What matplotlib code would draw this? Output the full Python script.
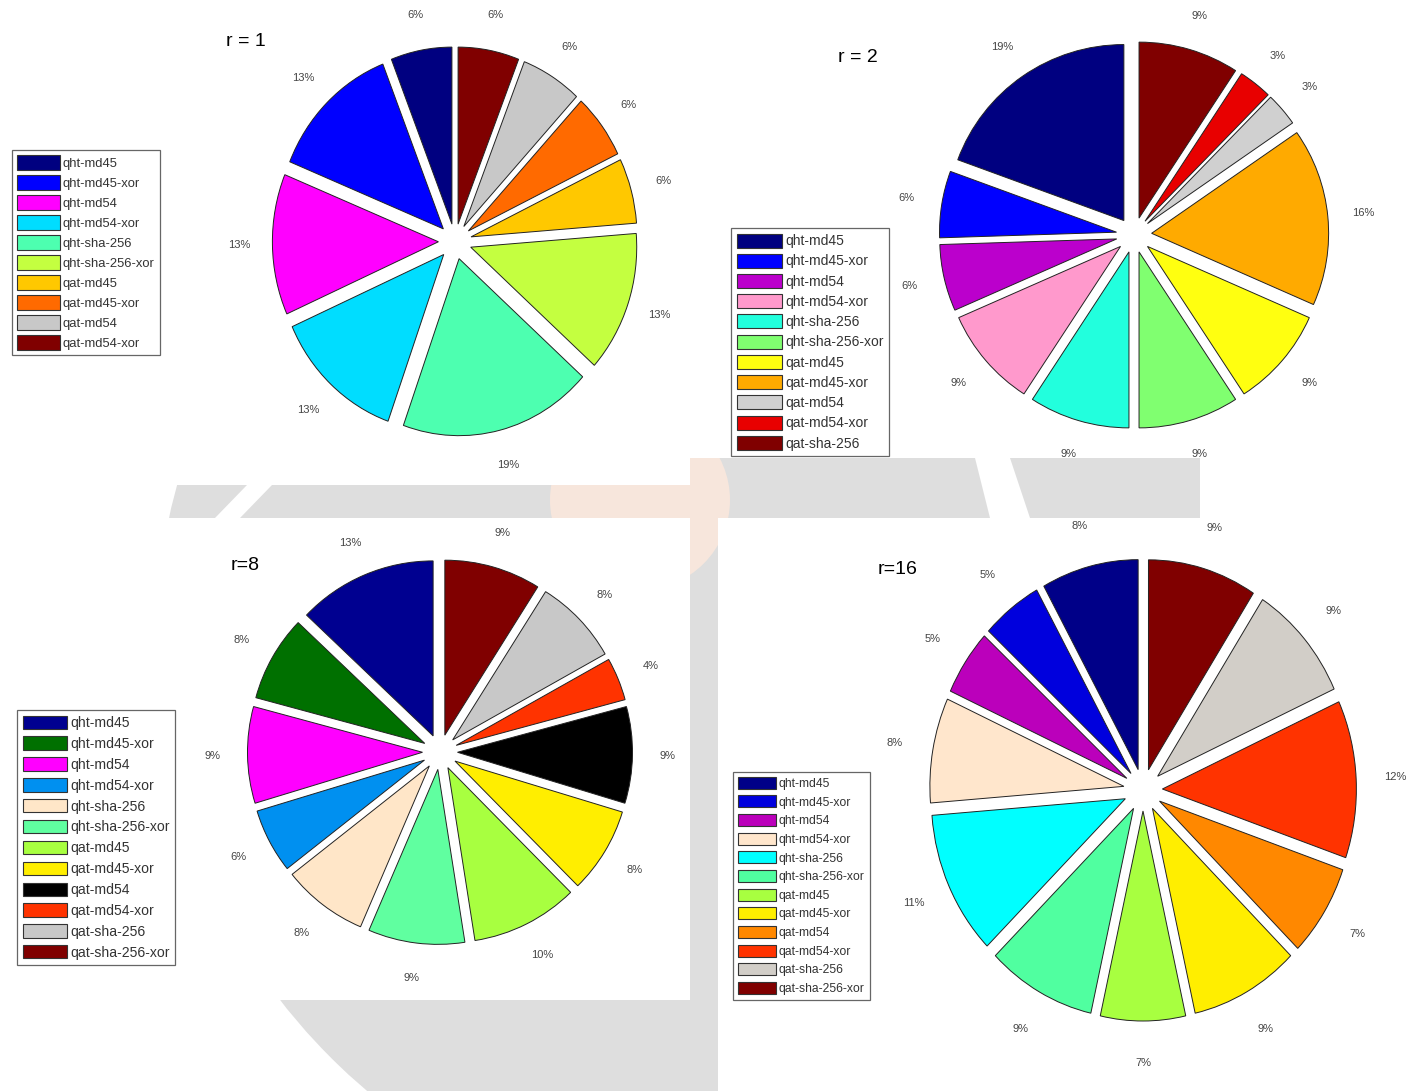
import math
import matplotlib
matplotlib.use("Agg")
import matplotlib.pyplot as plt
from matplotlib.patches import Ellipse, Rectangle, Polygon, Circle, Patch

plt.rcParams['font.family'] = ['Liberation Sans', 'DejaVu Sans']

W, H = 1406, 1091

# ---------------- data ----------------
titles = ["r = 1", "r = 2", "r=8", "r=16"]

labels_r1 = ["qht-md45", "qht-md45-xor", "qht-md54", "qht-md54-xor", "qht-sha-256",
             "qht-sha-256-xor", "qat-md45", "qat-md45-xor", "qat-md54", "qat-md54-xor"]
values_r1 = [6, 13, 13, 13, 19, 13, 6, 6, 6, 6]
colors_r1 = ["#000080", "#0000FF", "#FF00FF", "#00DDFF", "#4DFFB0",
             "#C4FF40", "#FFC800", "#FF6A00", "#C8C8C8", "#800000"]

labels_r2 = ["qht-md45", "qht-md45-xor", "qht-md54", "qht-md54-xor", "qht-sha-256",
             "qht-sha-256-xor", "qat-md45", "qat-md45-xor", "qat-md54", "qat-md54-xor",
             "qat-sha-256"]
values_r2 = [19, 6, 6, 9, 9, 9, 9, 16, 3, 3, 9]
colors_r2 = ["#000080", "#0000FF", "#BB00CC", "#FF99CC", "#22FFDD",
             "#80FF70", "#FFFF10", "#FFAA00", "#D0D0D0", "#E80000", "#800000"]

labels_r8 = ["qht-md45", "qht-md45-xor", "qht-md54", "qht-md54-xor", "qht-sha-256",
             "qht-sha-256-xor", "qat-md45", "qat-md45-xor", "qat-md54", "qat-md54-xor",
             "qat-sha-256", "qat-sha-256-xor"]
values_r8 = [13, 8, 9, 6, 8, 9, 10, 8, 9, 4, 8, 9]
colors_r8 = ["#000090", "#007000", "#FF00FF", "#0090F0", "#FFE6C8", "#60FFA0",
             "#A8FF40", "#FFEE00", "#000000", "#FF3300", "#C8C8C8", "#800000"]

labels_r16 = ["qht-md45", "qht-md45-xor", "qht-md54", "qht-md54-xor", "qht-sha-256",
              "qht-sha-256-xor", "qat-md45", "qat-md45-xor", "qat-md54", "qat-md54-xor",
              "qat-sha-256", "qat-sha-256-xor"]
values_r16 = [8, 5, 5, 8, 11, 9, 7, 9, 7, 12, 9, 9]
colors_r16 = ["#000088", "#0000DD", "#BB00BB", "#FFE6CC", "#00FFFF", "#50FFA0",
              "#A8FF40", "#FFEE00", "#FF8800", "#FF3300", "#D2CEC8", "#800000"]

fig = plt.figure(figsize=(W / 100, H / 100), dpi=100)

# ---------------- faint background watermark ----------------
bg = fig.add_axes([0, 0, 1, 1])
bg.set_xlim(0, W)
bg.set_ylim(H, 0)
bg.axis('off')
bg.add_patch(Ellipse((776, 640), 1240, 1200, facecolor="#dedede", edgecolor="none", zorder=1))
bg.add_patch(Circle((640, 500), 90, facecolor="#f7e6dc", edgecolor="none", zorder=2))
bg.add_patch(Polygon([[215, 518], [240, 518], [272, 485], [247, 485]], closed=True,
                     facecolor="white", edgecolor="none", zorder=3))
bg.add_patch(Polygon([[990, 518], [1030, 518], [1010, 458], [975, 458]], closed=True,
                     facecolor="white", edgecolor="none", zorder=3))
# white panels
for (x0, y0, x1, y1) in [(0, 0, 690, 485), (690, 0, 1406, 458), (1200, 458, 1406, 518),
                         (155, 518, 690, 1000), (718, 518, 1406, 1091)]:
    bg.add_patch(Rectangle((x0, y0), x1 - x0, y1 - y0, facecolor="white",
                           edgecolor="none", zorder=5))


def pct(p):
    return "%d%%" % math.floor(p + 0.5)


def draw_pie(values, colors, cx, cy, sx, sy):
    L = 1.5
    ax = fig.add_axes([(cx - L * sx) / W, 1 - (cy + L * sy) / H,
                       2 * L * sx / W, 2 * L * sy / H])
    ax.pie(values, colors=colors, explode=[0.1] * len(values), startangle=90,
           counterclock=True, autopct=pct, pctdistance=1.2,
           wedgeprops=dict(edgecolor="#222222", linewidth=0.7),
           textprops=dict(fontsize=8, color="#444444"), frame=False)
    ax.set_aspect('auto')
    ax.set_xlim(-L, L)
    ax.set_ylim(-L, L)
    ax.axis('off')
    return ax


def draw_legend(labels, colors, x, y, fontsize, hl, hh, ls):
    handles = [Patch(facecolor=c, edgecolor="#333333", linewidth=0.8) for c in colors]
    leg = fig.legend(handles, labels, loc="upper left",
                     bbox_to_anchor=(x / W, 1 - y / H), bbox_transform=fig.transFigure,
                     fontsize=fontsize, handlelength=hl, handleheight=hh,
                     labelspacing=ls, handletextpad=0.25, borderpad=0.4,
                     borderaxespad=0, fancybox=False, framealpha=1,
                     edgecolor="#666666", labelcolor="#333333")
    leg.get_frame().set_linewidth(0.9)
    return leg


draw_pie(values_r1, colors_r1, 455, 241.5, 166, 177)
draw_pie(values_r2, colors_r2, 1134, 235, 177, 176)
draw_pie(values_r8, colors_r8, 440, 752, 175, 175)
draw_pie(values_r16, colors_r16, 1143, 790, 194, 210)

fig.text(246 / W, 1 - 42 / H, titles[0], fontsize=14, ha="center", va="center")
fig.text(858 / W, 1 - 58 / H, titles[1], fontsize=14, ha="center", va="center")
fig.text(245 / W, 1 - 566 / H, titles[2], fontsize=14, ha="center", va="center")
fig.text(898 / W, 1 - 570 / H, titles[3], fontsize=14, ha="center", va="center")

draw_legend(labels_r1, colors_r1, 12, 150, 9.4, 3.25, 1.31, 0.42)
draw_legend(labels_r2, colors_r2, 731, 228, 10, 3.25, 1.17, 0.40)
draw_legend(labels_r8, colors_r8, 17, 710, 10.1, 3.15, 1.08, 0.46)
draw_legend(labels_r16, colors_r16, 733, 772, 8.7, 3.15, 1.15, 0.46)

fig.savefig("out.png", dpi=100)
